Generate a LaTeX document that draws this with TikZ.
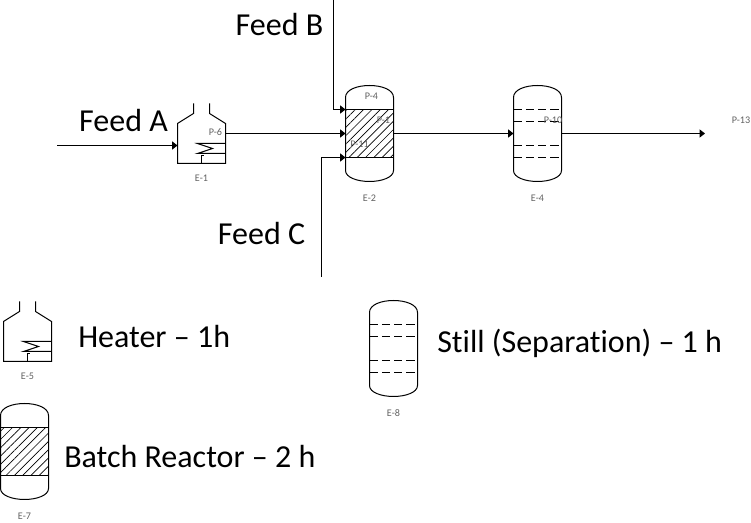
\documentclass[tikz,border=0pt]{standalone}
\usepackage{fontspec}
\setmainfont[Ligatures=NoCommon]{Carlito}
\usetikzlibrary{positioning, arrows.meta, patterns.meta}
\tikzstyle{bigText}=[inner sep=0pt, font=\fontsize{24}{26}\selectfont]
\tikzstyle{tagText}=[inner sep=0pt, text=black!62, font=\fontsize{7.6}{9}\selectfont]
\tikzstyle{streamLine}=[-{Triangle[length=4pt,width=6pt]}, line width=0.75pt]
\tikzstyle{plainLine}=[line width=0.75pt]
\tikzset{
  heaterVessel/.pic={
    \draw[plainLine] (16,0) -- (16,10) -- (0,20) -- (0,60) -- (48,60) -- (48,20) -- (32,10) -- (32,0);
    % coil
    \draw[plainLine] (48,40) -- (20,40) -- (35,45) -- (20,50) -- (48,50);
    \draw[plainLine] (24,60) -- (24,52) -- (26,52);
    \coordinate (in) at (0,42);
    \coordinate (out) at (48,30);
  },
  vesselBody/.pic={
    \draw[plainLine] (0,12) .. controls (0,4) and (12,0) .. (24,0) .. controls (36,0) and (48,4) .. (48,12)
      -- (48,85) .. controls (48,92) and (36,96) .. (24,96) .. controls (12,96) and (0,92) .. (0,85) -- cycle;
    \coordinate (upper) at (0,24);
    \coordinate (mid) at (0,48);
    \coordinate (lower) at (0,72);
    \coordinate (out) at (48,48);
  },
  reactorBand/.pic={
    \draw[plainLine, pattern={Lines[angle=45,distance=4.4pt,line width=0.5pt]}] (0,24) rectangle (48,72);
  },
  stillTrays/.pic={
    \foreach \trayY in {24,36,60,72}
      \draw[plainLine, dash pattern=on 6.2pt off 3pt] (0,\trayY) -- (45,\trayY);
  }
}
\begin{document}
\begin{tikzpicture}[x=0.75pt, y=-0.75pt]
  \useasboundingbox (0,0) rectangle (751,523);

  % process line

  \pic (e1) at (177.5,103.5) {heaterVessel};
  \pic (e2) at (345.5,85.5) {vesselBody};
  \pic at (345.5,85.5) {reactorBand};
  \pic (e4) at (513.5,85.5) {vesselBody};
  \pic at (513.5,85.5) {stillTrays};

  \coordinate (feedAstart) at (57,145.5);
  \coordinate (feedBstart) at (333.5,0);
  \coordinate (feedBbend) at (333.5,109.5);
  \coordinate (feedCstart) at (321.5,277);
  \coordinate (feedCbend) at (321.5,157.5);
  \coordinate (productEnd) at (705,133.5);

  \draw[streamLine] (feedAstart) -- (e1in);
  \draw[streamLine] (e1out) -- (e2mid);
  \draw[streamLine] (feedBstart) -- (feedBbend) -- (e2upper);
  \draw[streamLine] (feedCstart) -- (feedCbend) -- (e2lower);
  \draw[streamLine] (e2out) -- (e4mid);
  \draw[streamLine] (e4out) -- (productEnd);

  \node[bigText] (feedA) at (123.5,121) {Feed A};
  \node[bigText] (feedB) at (279.5,25) {Feed B};
  \node[bigText] (feedC) at (261.5,234) {Feed C};

  \node[tagText] (tagE1) at (201.5,178) {E-1};
  \node[tagText] (tagE2) at (369.5,198) {E-2};
  \node[tagText] (tagE4) at (537.5,198) {E-4};
  \node[tagText] (tagP6) at (215.5,132.5) {P-6};
  \node[tagText] (tagP4) at (371.5,96.5) {P-4};
  \node[tagText] (tagP1) at (383.5,120.5) {P-1};
  \node[tagText] (tagP11) at (359.5,144.5) {P-11};
  \node[tagText] (tagP10) at (553,120.5) {P-10};
  \node[tagText, anchor=east] (tagP13) at (750.5,120.5) {P-13};

  % legend

  \pic (e5) at (3.5,301.5) {heaterVessel};
  \pic (e7) at (0.5,403.5) {vesselBody};
  \pic at (0.5,403.5) {reactorBand};
  \pic (e8) at (369.5,300.5) {vesselBody};
  \pic at (369.5,300.5) {stillTrays};

  \node[tagText] (tagE5) at (27.5,376) {E-5};
  \node[tagText] (tagE7) at (24.5,516) {E-7};
  \node[tagText] (tagE8) at (393.5,413) {E-8};

  \node[bigText, anchor=west] (heaterText) at (78,337) {Heater – 1h};
  \node[bigText, anchor=west] (stillText) at (437,343) {Still (Separation) – 1 h};
  \node[bigText, anchor=west] (batchText) at (64,457) {Batch Reactor – 2 h};
\end{tikzpicture}
\end{document}
